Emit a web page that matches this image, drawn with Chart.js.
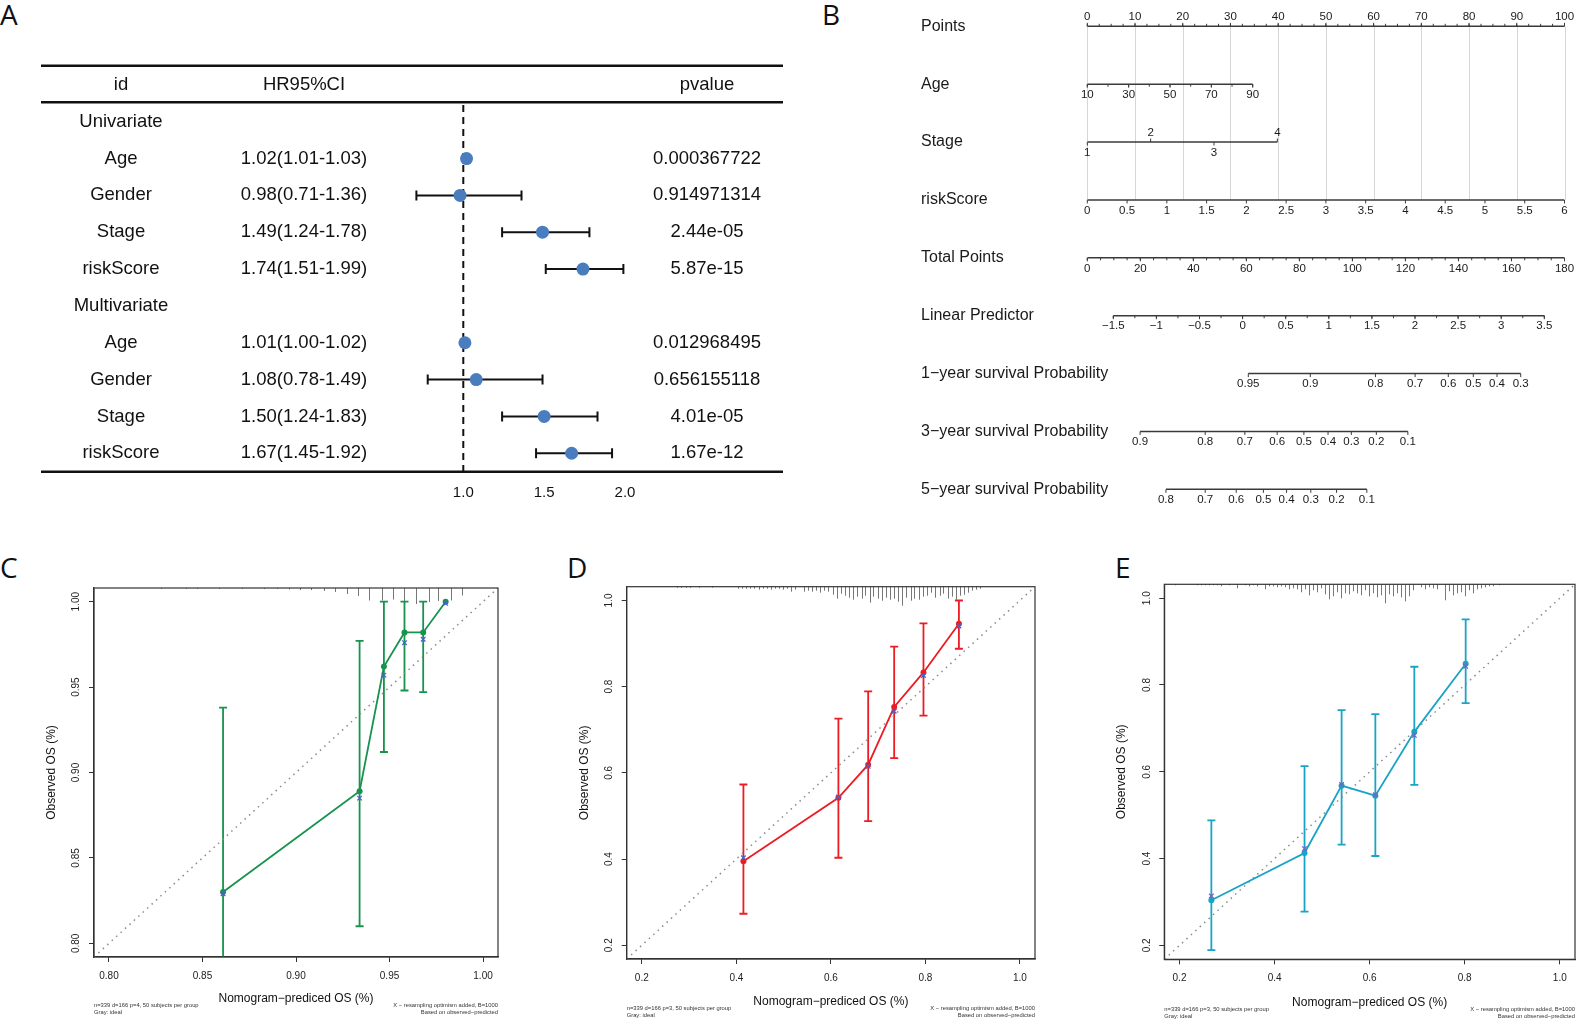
<!DOCTYPE html>
<html lang="en">
<head>
<meta charset="UTF-8">
<meta name="viewport" content="width=device-width, initial-scale=1.0">
<title>Cox regression, nomogram and calibration curves</title>
<script src="https://cdn.jsdelivr.net/npm/chart.js"></script>
<style>
  html, body { margin: 0; padding: 0; background: #fff; }
  body { position: relative; width: 1576px; height: 1019px; overflow: hidden; }
  .box { position: absolute; }
  .tag { position: absolute; font-family: "Open Sans", sans-serif; font-size: 28px; line-height: 1; color: #111; }
</style>
</head>
<body>
  <div class="tag" style="left:0px;top:0px">A</div>
  <div class="tag" style="left:822px;top:0px">B</div>
  <div class="tag" style="left:0px;top:553px">C</div>
  <div class="tag" style="left:567px;top:553px">D</div>
  <div class="tag" style="left:1115px;top:553px">E</div>

  <div class="box" style="left:0;top:0;width:800px;height:520px"><canvas id="forestChart"></canvas></div>
  <div class="box" style="left:900px;top:0;width:676px;height:520px"><canvas id="nomoChart"></canvas></div>
  <div class="box" style="left:30px;top:560px;width:490px;height:459px"><canvas id="calC"></canvas></div>
  <div class="box" style="left:560px;top:560px;width:490px;height:459px"><canvas id="calD"></canvas></div>
  <div class="box" style="left:1096px;top:560px;width:480px;height:459px"><canvas id="calE"></canvas></div>

<script>
const SANS = '"Liberation Sans", Arial, sans-serif';
Chart.defaults.font.family = SANS;

// ---- A: forest plot ----
const forestHeader = ['id', 'HR95%CI', 'pvalue'];
const forestIds = ['Univariate', 'Age', 'Gender', 'Stage', 'riskScore', 'Multivariate', 'Age', 'Gender', 'Stage', 'riskScore'];
const forestHrText = ['', '1.02(1.01-1.03)', '0.98(0.71-1.36)', '1.49(1.24-1.78)', '1.74(1.51-1.99)', '', '1.01(1.00-1.02)', '1.08(0.78-1.49)', '1.50(1.24-1.83)', '1.67(1.45-1.92)'];
const forestPvalues = ['', '0.000367722', '0.914971314', '2.44e-05', '5.87e-15', '', '0.012968495', '0.656155118', '4.01e-05', '1.67e-12'];
const forestHr = [null, 1.02, 0.98, 1.49, 1.74, null, 1.01, 1.08, 1.50, 1.67];
const forestLow = [null, 1.01, 0.71, 1.24, 1.51, null, 1.00, 0.78, 1.24, 1.45];
const forestHigh = [null, 1.03, 1.36, 1.78, 1.99, null, 1.02, 1.49, 1.83, 1.92];
const forestTicks = [1.0, 1.5, 2.0];

// ---- B: nomogram ----
const nomoLabels = ['Points', 'Age', 'Stage', 'riskScore', 'Total Points', 'Linear Predictor',
  '1\u2212year survival Probability', '3\u2212year survival Probability', '5\u2212year survival Probability'];
const pointsTicks = [0, 10, 20, 30, 40, 50, 60, 70, 80, 90, 100];
const ageTicks = [10, 30, 50, 70, 90];
const stageTicks = [1, 2, 3, 4];
const riskTicks = [0, 0.5, 1, 1.5, 2, 2.5, 3, 3.5, 4, 4.5, 5, 5.5, 6];
const totalTicks = [0, 20, 40, 60, 80, 100, 120, 140, 160, 180];
const lpTicks = [-1.5, -1, -0.5, 0, 0.5, 1, 1.5, 2, 2.5, 3, 3.5];
const surv1Labels = ['0.95', '0.9', '0.8', '0.7', '0.6', '0.5', '0.4', '0.3'];
const surv1Lp = [0.066, 0.785, 1.541, 2.001, 2.386, 2.676, 2.951, 3.226];
const surv3Labels = ['0.9', '0.8', '0.7', '0.6', '0.5', '0.4', '0.3', '0.2', '0.1'];
const surv3Lp = [-1.189, -0.434, 0.026, 0.401, 0.711, 0.991, 1.261, 1.551, 1.917];
const surv5Labels = ['0.8', '0.7', '0.6', '0.5', '0.4', '0.3', '0.2', '0.1'];
const surv5Lp = [-0.889, -0.434, -0.074, 0.241, 0.510, 0.791, 1.090, 1.441];

// ---- C/D/E: calibration ----
const calCPred = [0.861, 0.934, 0.947, 0.958, 0.968, 0.980];
const calCObs = [0.830, 0.889, 0.962, 0.982, 0.982, 1.000];
const calCLow = [0.720, 0.810, 0.912, 0.948, 0.947, null];
const calCHigh = [0.938, 0.977, 1.000, 1.000, 1.000, null];
const calCCorr = [0.829, 0.885, 0.957, 0.976, 0.978, 0.999];
const rugCX = [0.828, 0.841, 0.847, 0.859, 0.871, 0.883, 0.890, 0.896, 0.902, 0.908, 0.915, 0.921, 0.927, 0.933, 0.939, 0.946, 0.952, 0.958, 0.964, 0.971, 0.976, 0.983, 0.989];
const rugCH = [1, 1, 1, 1, 1, 1, 1, 1.5, 2, 2, 3, 4, 6, 8, 12.5, 12.5, 11.5, 14, 16, 14, 13, 12.5, 7.5];

const calDPred = [0.415, 0.616, 0.679, 0.734, 0.796, 0.871];
const calDObs = [0.395, 0.542, 0.619, 0.753, 0.833, 0.946];
const calDLow = [0.273, 0.403, 0.488, 0.634, 0.733, 0.888];
const calDHigh = [0.573, 0.726, 0.789, 0.893, 0.947, 1.000];
const calDCorr = [0.403, 0.544, 0.615, 0.743, 0.826, 0.941];
const rugDX = [0.275, 0.283, 0.293, 0.301, 0.322, 0.349, 0.404, 0.412, 0.421, 0.429, 0.438, 0.447, 0.456, 0.464, 0.473, 0.481,
  0.490, 0.499, 0.508, 0.516, 0.525, 0.543, 0.551, 0.560, 0.569, 0.577, 0.586, 0.595, 0.604, 0.612, 0.621, 0.630, 0.638,
  0.647, 0.656, 0.665, 0.673, 0.682, 0.690, 0.699, 0.708, 0.717, 0.725, 0.734, 0.743, 0.751, 0.760, 0.769, 0.777, 0.786,
  0.795, 0.803, 0.812, 0.821, 0.830, 0.838, 0.847, 0.856, 0.864, 0.873, 0.882, 0.890, 0.899, 0.908, 0.916];
const rugDH = [1, 1, 1, 1, 1, 1, 2, 2, 2, 2, 2, 3, 2, 2, 3, 2,
  2, 3, 2, 5, 3, 5, 4, 5, 4, 6, 4, 5, 8, 12, 7, 9, 11,
  13, 10, 12, 9, 16, 10, 12, 14, 11, 13, 12, 15, 19, 11, 14, 12, 13,
  10, 9, 6, 11, 9, 7, 12, 10, 13, 9, 8, 6, 4, 3, 2];

const calEPred = [0.267, 0.463, 0.541, 0.612, 0.694, 0.802];
const calEObs = [0.304, 0.413, 0.568, 0.545, 0.692, 0.849];
const calELow = [0.189, 0.278, 0.432, 0.406, 0.570, 0.758];
const calEHigh = [0.488, 0.613, 0.742, 0.733, 0.842, 0.951];
const calECorr = [0.314, 0.423, 0.571, 0.547, 0.684, 0.843];
const rugEX = [0.190, 0.236, 0.245, 0.253, 0.262, 0.270, 0.279, 0.287, 0.304, 0.321, 0.338, 0.346, 0.355, 0.363, 0.380, 0.388,
  0.397, 0.405, 0.414, 0.422, 0.430, 0.439, 0.447, 0.456, 0.464, 0.473, 0.481, 0.490, 0.498, 0.506, 0.515, 0.523, 0.532,
  0.540, 0.548, 0.557, 0.565, 0.574, 0.582, 0.591, 0.599, 0.607, 0.616, 0.624, 0.633, 0.641, 0.650, 0.658, 0.666, 0.675,
  0.683, 0.692, 0.708, 0.717, 0.725, 0.734, 0.742, 0.759, 0.767, 0.776, 0.784, 0.793, 0.801, 0.810, 0.818, 0.826, 0.835,
  0.843, 0.852, 0.860, 0.873];
const rugEH = [1, 1, 1, 1, 1, 1, 1, 2, 1, 4, 1, 2, 1, 2, 5, 2,
  2, 3, 2, 3, 5, 4, 5, 8, 5, 11, 6, 8, 4, 10, 15, 12, 8,
  14, 9, 10, 7, 9, 11, 6, 12, 9, 13, 11, 19, 10, 12, 9, 13, 17,
  12, 6, 3, 5, 3, 4, 5, 16, 7, 11, 9, 8, 12, 6, 9, 5, 4,
  3, 2, 2, 1];

// ================= A =================
const forestPlugin = {
  id: 'forestTable',
  beforeDatasetsDraw(chart) {
    const { ctx, scales: { x, y } } = chart;
    ctx.save();
    ctx.strokeStyle = '#111';
    ctx.lineWidth = 2.6;
    [-1.52, -0.53, 9.5].forEach(r => {
      const py = y.getPixelForValue(r);
      ctx.beginPath(); ctx.moveTo(41, py); ctx.lineTo(783, py); ctx.stroke();
    });
    // line of no effect
    const x1 = x.getPixelForValue(1);
    ctx.lineWidth = 2;
    ctx.setLineDash([7, 5]);
    ctx.beginPath(); ctx.moveTo(x1, y.getPixelForValue(-0.45)); ctx.lineTo(x1, y.getPixelForValue(9.5)); ctx.stroke();
    ctx.setLineDash([]);
    // confidence intervals
    forestHr.forEach((hr, i) => {
      if (hr === null) return;
      const py = y.getPixelForValue(i);
      const a = x.getPixelForValue(forestLow[i]);
      const b = x.getPixelForValue(forestHigh[i]);
      ctx.beginPath();
      ctx.moveTo(a, py); ctx.lineTo(b, py);
      ctx.moveTo(a, py - 5); ctx.lineTo(a, py + 5);
      ctx.moveTo(b, py - 5); ctx.lineTo(b, py + 5);
      ctx.stroke();
    });
    // table text
    ctx.fillStyle = '#111';
    ctx.textAlign = 'center';
    ctx.textBaseline = 'middle';
    ctx.font = '18.5px ' + SANS;
    const cols = [121, 304, 707];
    forestHeader.forEach((h, j) => ctx.fillText(h, cols[j], y.getPixelForValue(-1)));
    forestIds.forEach((id, i) => {
      const py = y.getPixelForValue(i);
      ctx.fillText(id, cols[0], py);
      if (forestHrText[i]) ctx.fillText(forestHrText[i], cols[1], py);
      if (forestPvalues[i]) ctx.fillText(forestPvalues[i], cols[2], py);
    });
    ctx.font = '15px ' + SANS;
    forestTicks.forEach(t => ctx.fillText(t.toFixed(1), x.getPixelForValue(t), y.getPixelForValue(10.07)));
    ctx.restore();
  }
};

new Chart(document.getElementById('forestChart'), {
  type: 'scatter',
  data: {
    datasets: [{
      data: forestHr.map((v, i) => ({ x: v, y: i })).filter(p => p.x !== null),
      pointRadius: 6.5,
      pointBackgroundColor: '#4a7dbe',
      pointBorderWidth: 0
    }]
  },
  options: {
    responsive: true, maintainAspectRatio: false, animation: false,
    layout: { autoPadding: false, padding: { left: 380, right: 100, top: 0, bottom: 0 } },
    plugins: { legend: { display: false }, tooltip: { enabled: false } },
    scales: {
      x: { type: 'linear', min: 0.4849, max: 2.4638, display: false },
      y: { type: 'linear', min: -3.3035, max: 10.8116, reverse: true, display: false }
    }
  },
  plugins: [forestPlugin]
});

// ================= B =================
const fmtNum = v => (v < 0 ? '\u2212' + Math.abs(v) : String(v));
const nomoRows = [
  { axis: 'xPts', ticks: pointsTicks, labels: pointsTicks.map(String), minor: 2.5, side: 'above' },
  { axis: 'xAge', ticks: ageTicks, labels: ageTicks.map(String), minor: 10, side: 'below' },
  { axis: 'xStage', ticks: stageTicks, labels: stageTicks.map(String), sides: ['below', 'above', 'below', 'above'] },
  { axis: 'xRisk', ticks: riskTicks, labels: riskTicks.map(String), side: 'below' },
  { axis: 'xTot', ticks: totalTicks, labels: totalTicks.map(String), minor: 5, side: 'below' },
  { axis: 'xLp', ticks: lpTicks, labels: lpTicks.map(fmtNum), minor: 0.25, side: 'below' },
  { axis: 'xLp', ticks: surv1Lp, labels: surv1Labels, side: 'below' },
  { axis: 'xLp', ticks: surv3Lp, labels: surv3Labels, side: 'below' },
  { axis: 'xLp', ticks: surv5Lp, labels: surv5Labels, side: 'below' }
];

const nomoPlugin = {
  id: 'nomoAxes',
  beforeDatasetsDraw(chart) {
    const { ctx, scales } = chart;
    const y = scales.y;
    ctx.save();
    ctx.strokeStyle = '#d6d6d6';
    ctx.lineWidth = 1;
    pointsTicks.forEach(p => {
      const px = Math.round(scales.xPts.getPixelForValue(p)) + 0.5;
      ctx.beginPath(); ctx.moveTo(px, y.getPixelForValue(0)); ctx.lineTo(px, y.getPixelForValue(3)); ctx.stroke();
    });
    ctx.restore();
  },
  afterDatasetsDraw(chart) {
    const { ctx, scales } = chart;
    const y = scales.y;
    ctx.save();
    ctx.fillStyle = '#1a1a1a';
    ctx.textBaseline = 'middle';
    ctx.font = '16px ' + SANS;
    ctx.textAlign = 'left';
    nomoLabels.forEach((t, i) => ctx.fillText(t, 21, y.getPixelForValue(i)));

    ctx.strokeStyle = '#3a3a3a';
    ctx.lineWidth = 1;
    ctx.textAlign = 'center';
    ctx.font = '11.5px ' + SANS;
    nomoRows.forEach((row, i) => {
      const sx = scales[row.axis];
      const py = y.getPixelForValue(i);
      const defDir = row.side === 'above' ? -1 : 1;
      if (row.minor) {
        const first = row.ticks[0], last = row.ticks[row.ticks.length - 1];
        const n = Math.round((last - first) / row.minor);
        for (let k = 0; k <= n; k++) {
          const px = sx.getPixelForValue(first + k * row.minor);
          ctx.beginPath(); ctx.moveTo(px, py); ctx.lineTo(px, py + defDir * 2.5); ctx.stroke();
        }
      }
      row.ticks.forEach((v, j) => {
        const side = row.sides ? row.sides[j] : row.side;
        const dir = side === 'above' ? -1 : 1;
        const px = sx.getPixelForValue(v);
        ctx.beginPath(); ctx.moveTo(px, py); ctx.lineTo(px, py + dir * 3.5); ctx.stroke();
        ctx.fillText(row.labels[j], px, side === 'above' ? py - 9.3 : py + 10.6);
      });
    });
    ctx.restore();
  }
};

new Chart(document.getElementById('nomoChart'), {
  type: 'scatter',
  data: {
    datasets: nomoRows.map((row, i) => ({
      data: [{ x: row.ticks[0], y: i }, { x: row.ticks[row.ticks.length - 1], y: i }],
      xAxisID: row.axis,
      yAxisID: 'y',
      showLine: true,
      borderColor: '#3a3a3a',
      borderWidth: 1.4,
      pointRadius: 0
    }))
  },
  options: {
    responsive: true, maintainAspectRatio: false, animation: false,
    layout: { autoPadding: false, padding: { left: 187.3, right: 11.5, top: 0, bottom: 0 } },
    plugins: { legend: { display: false }, tooltip: { enabled: false } },
    scales: {
      xPts: { type: 'linear', position: 'bottom', min: 0, max: 100, display: false },
      xAge: { type: 'linear', position: 'bottom', min: 10, max: 240.8, display: false },
      xStage: { type: 'linear', position: 'bottom', min: 1, max: 8.533, display: false },
      xRisk: { type: 'linear', position: 'bottom', min: 0, max: 6, display: false },
      xTot: { type: 'linear', position: 'bottom', min: 0, max: 180, display: false },
      xLp: { type: 'linear', position: 'bottom', min: -1.8016, max: 3.734, display: false },
      y: { type: 'linear', min: -0.4544, max: 8.530, reverse: true, display: false }
    }
  },
  plugins: [nomoPlugin]
});

// ================= C, D, E =================
function calibration(id, o) {
  const extras = {
    id: 'calibExtras',
    beforeDatasetsDraw(chart) {
      const { ctx, chartArea: ca, scales: { x, y } } = chart;
      ctx.save();
      // spike histogram of predictions
      ctx.strokeStyle = '#777';
      ctx.lineWidth = 1;
      o.rugX.forEach((v, i) => {
        const px = Math.round(x.getPixelForValue(v)) + 0.5;
        ctx.beginPath(); ctx.moveTo(px, ca.top); ctx.lineTo(px, ca.top + o.rugH[i]); ctx.stroke();
      });
      // error bars
      ctx.beginPath(); ctx.rect(ca.left, ca.top, ca.right - ca.left, ca.bottom - ca.top); ctx.clip();
      ctx.strokeStyle = o.color;
      ctx.lineWidth = 1.8;
      o.pred.forEach((p, i) => {
        if (o.low[i] === null) return;
        const px = x.getPixelForValue(p);
        const a = y.getPixelForValue(o.low[i]);
        const b = y.getPixelForValue(o.high[i]);
        ctx.beginPath();
        ctx.moveTo(px, a); ctx.lineTo(px, b);
        ctx.moveTo(px - 4, a); ctx.lineTo(px + 4, a);
        ctx.moveTo(px - 4, b); ctx.lineTo(px + 4, b);
        ctx.stroke();
      });
      ctx.restore();
    },
    afterDraw(chart) {
      const { ctx, chartArea: ca, scales: { y } } = chart;
      ctx.save();
      ctx.strokeStyle = '#333';
      ctx.lineWidth = 1.2;
      ctx.strokeRect(ca.left, ca.top, ca.right - ca.left, ca.bottom - ca.top);
      // y labels written along the axis
      ctx.fillStyle = '#222';
      ctx.font = '10px ' + SANS;
      ctx.textAlign = 'center';
      ctx.textBaseline = 'middle';
      o.ticks.forEach(v => {
        ctx.save();
        ctx.translate(ca.left - 17.5, y.getPixelForValue(v));
        ctx.rotate(-Math.PI / 2);
        ctx.fillText(v.toFixed(o.dec), 0, 0);
        ctx.restore();
      });
      // footnotes
      ctx.font = '5.8px ' + SANS;
      ctx.fillStyle = '#333';
      ctx.textAlign = 'left';
      ctx.fillText(o.note, ca.left, ca.bottom + o.noteDy);
      ctx.fillText('Gray: ideal', ca.left, ca.bottom + o.noteDy + 7.2);
      ctx.textAlign = 'right';
      ctx.fillText('X \u2212 resampling optimism added, B=1000', ca.right, ca.bottom + o.noteDy);
      ctx.fillText('Based on observed\u2212predicted', ca.right, ca.bottom + o.noteDy + 7.2);
      ctx.restore();
    }
  };

  const setTicks = s => { s.ticks = o.ticks.map(v => ({ value: v })); };

  new Chart(document.getElementById(id), {
    type: 'scatter',
    data: {
      datasets: [
        {
          data: o.pred.map((p, i) => ({ x: p, y: o.corr[i] })),
          pointStyle: 'crossRot', pointRadius: 3.2, pointBorderWidth: 1.3,
          pointBorderColor: o.xColor, showLine: false, order: 1
        },
        {
          data: o.pred.map((p, i) => ({ x: p, y: o.obs[i] })),
          showLine: true, borderColor: o.color, borderWidth: 1.8,
          pointRadius: 3, pointBackgroundColor: o.color, pointBorderColor: o.color, pointBorderWidth: 0, order: 2
        },
        {
          data: [{ x: o.lim[0], y: o.lim[0] }, { x: o.lim[1], y: o.lim[1] }],
          showLine: true, borderColor: '#8a8a8a', borderWidth: 1.5, borderDash: [1.5, 4.5],
          pointRadius: 0, order: 3
        }
      ]
    },
    options: {
      responsive: true, maintainAspectRatio: false, animation: false,
      layout: { autoPadding: false, padding: { left: 0, right: o.padR, top: o.padT, bottom: 0 } },
      plugins: { legend: { display: false }, tooltip: { enabled: false } },
      scales: {
        x: {
          type: 'linear', min: o.lim[0], max: o.lim[1],
          afterFit: s => { s.height = o.xH; },
          afterBuildTicks: setTicks,
          ticks: { callback: v => v.toFixed(o.dec), font: { size: 10 }, color: '#222', padding: 8, maxRotation: 0, autoSkip: false },
          grid: { drawOnChartArea: false, tickLength: 5, color: '#333' },
          border: { color: '#333', width: 1.2 },
          title: { display: true, text: 'Nomogram\u2212prediced OS (%)', font: { size: 12 }, color: '#111', padding: { top: 0, bottom: o.xTitlePad } }
        },
        y: {
          type: 'linear', min: o.lim[0], max: o.lim[1],
          afterFit: s => { s.width = o.yW; },
          afterBuildTicks: setTicks,
          ticks: { display: false },
          grid: { drawOnChartArea: false, tickLength: 5, color: '#333' },
          border: { color: '#333', width: 1.2 },
          title: { display: true, text: 'Observed OS (%)', font: { size: 12 }, color: '#111', padding: { top: o.yTitlePad, bottom: 0 } }
        }
      }
    },
    plugins: [extras]
  });
}

calibration('calC', {
  pred: calCPred, obs: calCObs, low: calCLow, high: calCHigh, corr: calCCorr, rugX: rugCX, rugH: rugCH,
  color: '#17934e', xColor: '#4a62c8', lim: [0.792, 1.008], ticks: [0.80, 0.85, 0.90, 0.95, 1.00], dec: 2,
  yW: 64, padR: 22, padT: 28, xH: 62, yTitlePad: 14.8, xTitlePad: 12.8, noteDy: 48,
  note: 'n=339 d=166 p=4, 50 subjects per group'
});
calibration('calD', {
  pred: calDPred, obs: calDObs, low: calDLow, high: calDHigh, corr: calDCorr, rugX: rugDX, rugH: rugDH,
  color: '#ec1c24', xColor: '#4a62c8', lim: [0.168, 1.032], ticks: [0.2, 0.4, 0.6, 0.8, 1.0], dec: 1,
  yW: 66.7, padR: 15, padT: 26.7, xH: 60, yTitlePad: 17.1, xTitlePad: 10.1, noteDy: 49,
  note: 'n=339 d=166 p=3, 50 subjects per group'
});
calibration('calE', {
  pred: calEPred, obs: calEObs, low: calELow, high: calEHigh, corr: calECorr, rugX: rugEX, rugH: rugEH,
  color: '#1ba3c6', xColor: '#7d5fc3', lim: [0.168, 1.032], ticks: [0.2, 0.4, 0.6, 0.8, 1.0], dec: 1,
  yW: 68.3, padR: 1, padT: 24.3, xH: 59.7, yTitlePad: 18.5, xTitlePad: 9.1, noteDy: 50,
  note: 'n=339 d=166 p=3, 50 subjects per group'
});
</script>
</body>
</html>
